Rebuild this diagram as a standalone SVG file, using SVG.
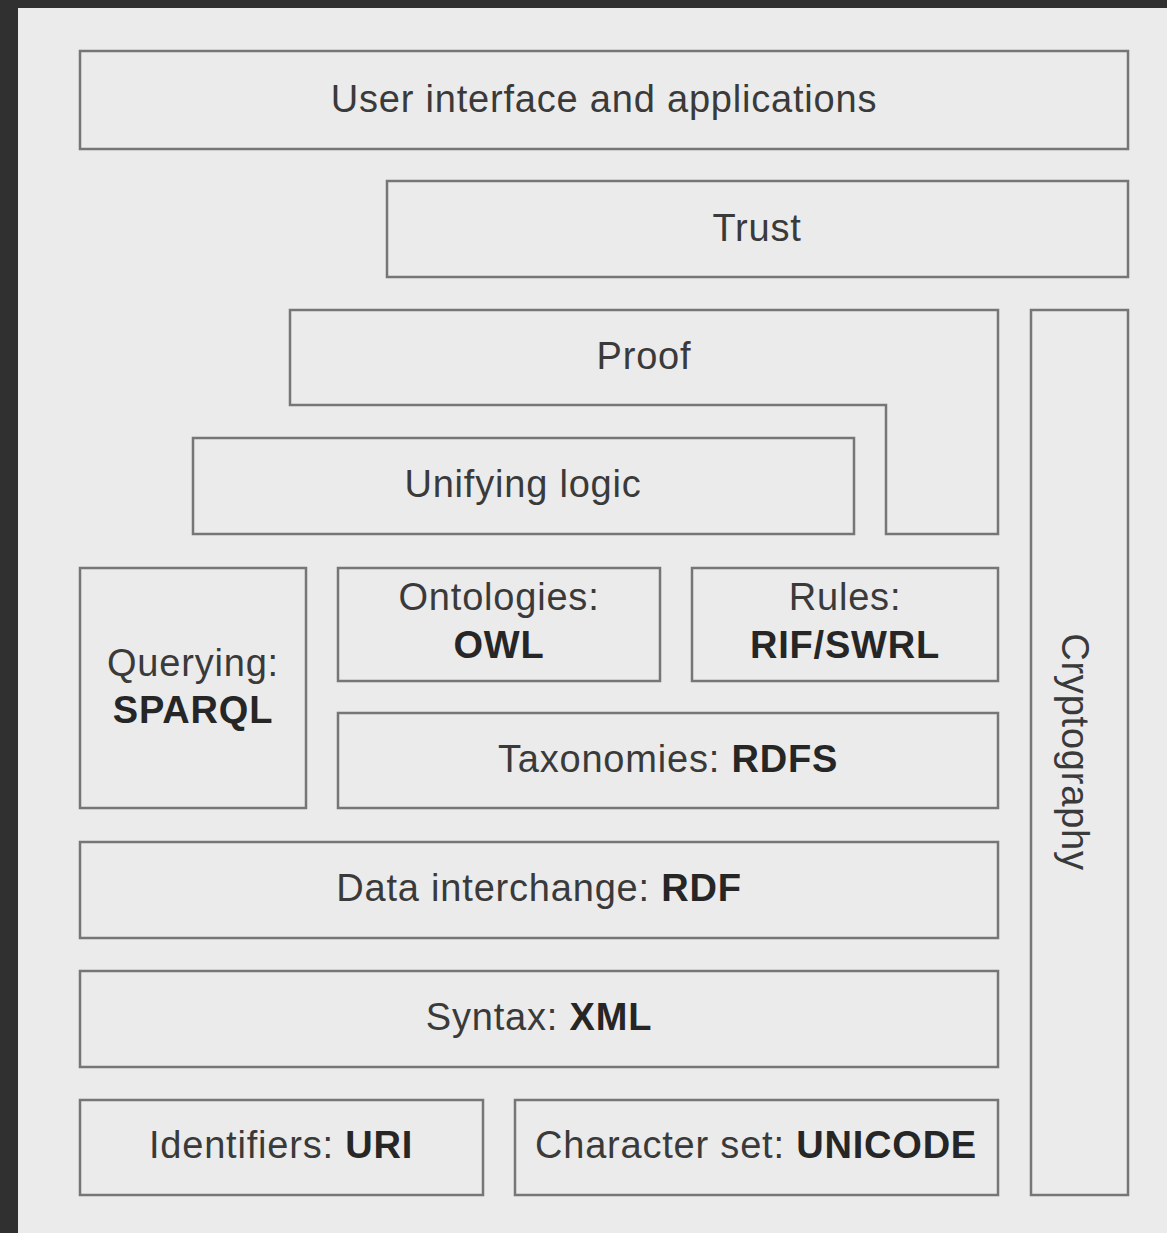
<svg xmlns="http://www.w3.org/2000/svg" width="1167" height="1233" viewBox="0 0 1167 1233">
<style>
.box{fill:#ebebeb;stroke:#767676;stroke-width:2.5}
.t{font-family:"Liberation Sans",Arial,sans-serif;font-size:38px;letter-spacing:0.8px;fill:#3a3a3a;text-anchor:middle}
.b{font-weight:bold;fill:#262626}
</style>
<rect x="0" y="0" width="1167" height="1233" fill="#303030"/>
<rect x="18" y="8" width="1149" height="1225" fill="#ebebeb"/>
<g id="ui"><rect class="box" x="80" y="51" width="1048" height="98"/><text class="t" x="604" y="112">User interface and applications</text></g>
<g id="trust"><rect class="box" x="387" y="181" width="741" height="96"/><text class="t" x="757" y="241">Trust</text></g>
<g id="proof"><path class="box" d="M290,310 H998 V534 H886 V405 H290 Z"/><text class="t" x="644" y="369">Proof</text></g>
<g id="crypto"><rect class="box" x="1031" y="310" width="97" height="885"/><text class="t" transform="translate(1062,752) rotate(90)" x="0" y="0">Cryptography</text></g>
<g id="logic"><rect class="box" x="193" y="438" width="661" height="96"/><text class="t" x="523" y="497">Unifying logic</text></g>
<g id="query"><rect class="box" x="80" y="568" width="226" height="240"/><text class="t" x="193" y="676">Querying:</text><text class="t b" x="193" y="723">SPARQL</text></g>
<g id="onto"><rect class="box" x="338" y="568" width="322" height="113"/><text class="t" x="499" y="610">Ontologies:</text><text class="t b" x="499" y="658">OWL</text></g>
<g id="rules"><rect class="box" x="692" y="568" width="306" height="113"/><text class="t" x="845" y="610">Rules:</text><text class="t b" x="845" y="658">RIF/SWRL</text></g>
<g id="tax"><rect class="box" x="338" y="713" width="660" height="95"/><text class="t" x="668" y="772">Taxonomies: <tspan class="b">RDFS</tspan></text></g>
<g id="rdf"><rect class="box" x="80" y="842" width="918" height="96"/><text class="t" x="539" y="901">Data interchange: <tspan class="b">RDF</tspan></text></g>
<g id="xml"><rect class="box" x="80" y="971" width="918" height="96"/><text class="t" x="539" y="1030">Syntax: <tspan class="b">XML</tspan></text></g>
<g id="uri"><rect class="box" x="80" y="1100" width="403" height="95"/><text class="t" x="281" y="1158">Identifiers: <tspan class="b">URI</tspan></text></g>
<g id="unicode"><rect class="box" x="515" y="1100" width="483" height="95"/><text class="t" x="756" y="1158">Character set: <tspan class="b">UNICODE</tspan></text></g>
<g id="connectors"></g>
</svg>
